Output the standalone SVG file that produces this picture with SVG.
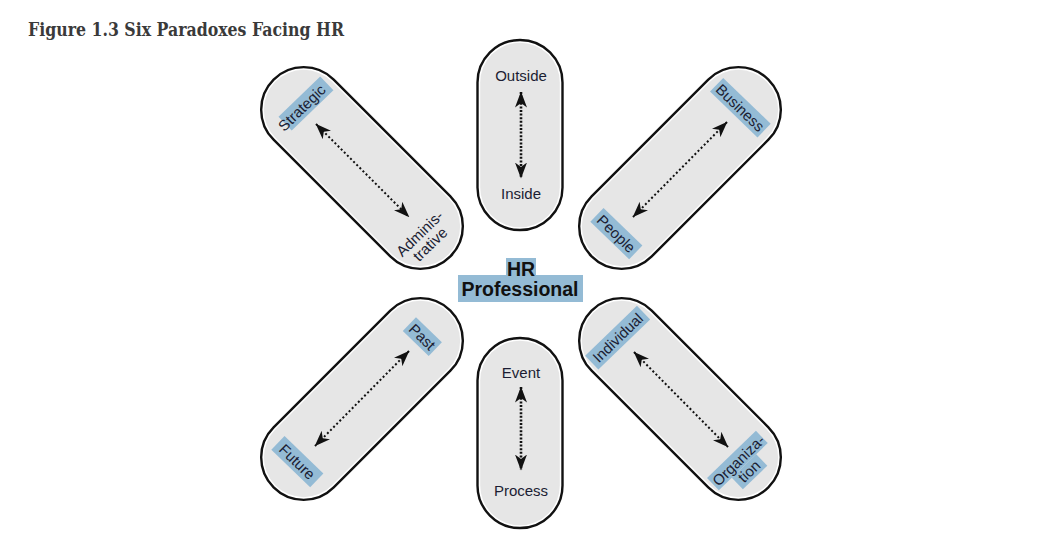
<svg xmlns="http://www.w3.org/2000/svg" width="1050" height="543" viewBox="0 0 1050 543">
  <style>
    .outer { fill: #ffffff; stroke: #111111; stroke-width: 2.4; }
    .inner { fill: #e6e6e6; stroke: none; }
    .lbl { font-family: "Liberation Sans", Arial, sans-serif; font-size: 15px; fill: #1b1d33; text-anchor: middle; }
    .hl { fill: #94bbd5; }
    .hr { font-family: "Liberation Sans", Arial, sans-serif; font-size: 19.5px; font-weight: bold; fill: #111111; text-anchor: middle; }
    .title { font-family: "DejaVu Serif", "Liberation Serif", serif; font-size: 18.5px; font-weight: bold; fill: #3a3a3a; }
    .dotv { fill: none; stroke: #111111; stroke-width: 2.6; stroke-dasharray: 2 1.6; }
    .dotd { fill: none; stroke: #111111; stroke-width: 2; stroke-dasharray: 2 2.4; }
  </style>
  <defs>
    <marker id="ah" viewBox="0 0 16 12" refX="15.5" refY="6" markerWidth="16" markerHeight="12" markerUnits="userSpaceOnUse" orient="auto-start-reverse">
      <path d="M0,0 L16,6 L0,12 L4.5,6 z" fill="#111111"/>
    </marker>
  </defs>

  <text class="title" x="28" y="36" textLength="316" lengthAdjust="spacingAndGlyphs">Figure 1.3 Six Paradoxes Facing HR</text>

  <!-- Outside / Inside -->
  <g id="node-outside-inside">
    <g transform="translate(520,135)">
      <rect class="outer" x="-42.5" y="-95" width="85" height="190" rx="42.5"/>
      <rect class="inner" x="-39.8" y="-92.3" width="79.6" height="184.6" rx="39.8"/>
    </g>
    <text class="lbl" x="521" y="81">Outside</text>
    <text class="lbl" x="521" y="199">Inside</text>
  </g>

  <!-- Event / Process -->
  <g id="node-event-process">
    <g transform="translate(520,433)">
      <rect class="outer" x="-42.5" y="-95" width="85" height="190" rx="42.5"/>
      <rect class="inner" x="-39.8" y="-92.3" width="79.6" height="184.6" rx="39.8"/>
    </g>
    <text class="lbl" x="521" y="378">Event</text>
    <text class="lbl" x="521" y="496">Process</text>
  </g>

  <!-- Strategic / Administrative -->
  <g id="node-strategic-administrative">
    <g transform="translate(362,168) rotate(45)">
      <rect class="outer" x="-125" y="-42.5" width="250" height="85" rx="42.5"/>
      <rect class="inner" x="-122.3" y="-39.8" width="244.6" height="79.6" rx="39.8"/>
    </g>
    <g transform="translate(302,108) rotate(-44)">
      <rect class="hl" x="-23" y="-10" width="58" height="19"/>
      <text class="lbl" x="0" y="5">Strategic</text>
    </g>
    <g transform="translate(425,239) rotate(-44)">
      <text class="lbl" x="0" y="-2.5">Adminis-</text>
      <text class="lbl" x="0" y="12.5">trative</text>
    </g>
  </g>

  <!-- Business / People -->
  <g id="node-business-people">
    <g transform="translate(680,168) rotate(-45)">
      <rect class="outer" x="-125" y="-42.5" width="250" height="85" rx="42.5"/>
      <rect class="inner" x="-122.3" y="-39.8" width="244.6" height="79.6" rx="39.8"/>
    </g>
    <g transform="translate(740,108) rotate(44)">
      <rect class="hl" x="-33" y="-10" width="66" height="19"/>
      <text class="lbl" x="0" y="5">Business</text>
    </g>
    <g transform="translate(616,234) rotate(44)">
      <rect class="hl" x="-27" y="-10" width="54" height="19"/>
      <text class="lbl" x="0" y="5">People</text>
    </g>
  </g>

  <!-- Past / Future -->
  <g id="node-past-future">
    <g transform="translate(362,399) rotate(-45)">
      <rect class="outer" x="-125" y="-42.5" width="250" height="85" rx="42.5"/>
      <rect class="inner" x="-122.3" y="-39.8" width="244.6" height="79.6" rx="39.8"/>
    </g>
    <g transform="translate(422,337) rotate(44)">
      <rect class="hl" x="-18" y="-10" width="36" height="19"/>
      <text class="lbl" x="0" y="5">Past</text>
    </g>
    <g transform="translate(297,462) rotate(44)">
      <rect class="hl" x="-27" y="-10" width="54" height="19"/>
      <text class="lbl" x="0" y="5">Future</text>
    </g>
  </g>

  <!-- Individual / Organization -->
  <g id="node-individual-organization">
    <g transform="translate(680,399) rotate(45)">
      <rect class="outer" x="-125" y="-42.5" width="250" height="85" rx="42.5"/>
      <rect class="inner" x="-122.3" y="-39.8" width="244.6" height="79.6" rx="39.8"/>
    </g>
    <g transform="translate(618,338) rotate(-44)">
      <rect class="hl" x="-36" y="-10" width="72" height="19"/>
      <text class="lbl" x="0" y="5">Individual</text>
    </g>
    <g transform="translate(744,466) rotate(-44)">
      <rect class="hl" x="-35" y="-17" width="68" height="17"/>
      <rect class="hl" x="-17" y="0" width="34" height="16"/>
      <text class="lbl" x="0" y="-2.5">Organiza-</text>
      <text class="lbl" x="0" y="12.5">tion</text>
    </g>
  </g>

  <!-- HR Professional -->
  <g id="node-hr-professional">
    <rect class="hl" x="506" y="258" width="30" height="20"/>
    <rect class="hl" x="458" y="275" width="125" height="27"/>
    <text class="hr" x="521" y="276">HR</text>
    <text class="hr" x="520" y="296">Professional</text>
  </g>

  <g id="connectors">
    <path class="dotv" d="M521,92 L521,178" marker-start="url(#ah)" marker-end="url(#ah)"/>
    <path class="dotv" d="M521,387 L521,470" marker-start="url(#ah)" marker-end="url(#ah)"/>
    <path class="dotd" d="M316,124 L409,217" marker-start="url(#ah)" marker-end="url(#ah)"/>
    <path class="dotd" d="M727,122 L633,217" marker-start="url(#ah)" marker-end="url(#ah)"/>
    <path class="dotd" d="M409,351 L315,446" marker-start="url(#ah)" marker-end="url(#ah)"/>
    <path class="dotd" d="M634,352 L728,447" marker-start="url(#ah)" marker-end="url(#ah)"/>
  </g>
</svg>
